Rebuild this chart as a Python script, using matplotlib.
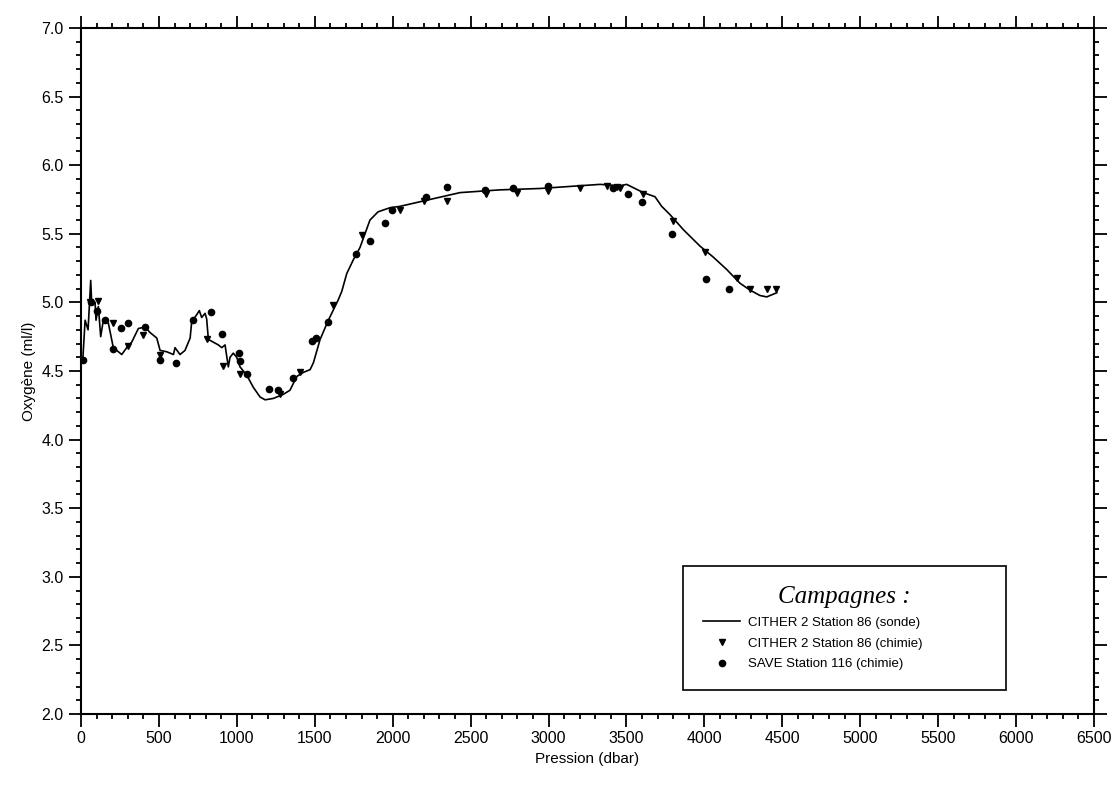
import matplotlib.pyplot as plt
from matplotlib.ticker import MultipleLocator

plt.rcParams['font.family'] = ['Liberation Sans', 'DejaVu Sans']

# CITHER 2 station 86, CTD oxygen profile (sonde)
sonde_p = [11, 26, 45, 62, 68, 90, 96, 111, 126, 143, 175, 207, 229, 261, 293, 325,
           368, 411, 443, 486, 507, 550, 593, 603, 635, 667, 700, 710, 742, 759, 774,
           796, 806, 817, 849, 881, 903, 924, 945, 956, 977, 999, 1020, 1063, 1106,
           1149, 1181, 1234, 1298, 1341, 1384, 1427, 1470, 1491, 1534, 1587, 1651,
           1673, 1705, 1747, 1790, 1854, 1906, 1983, 2047, 2239, 2432, 2688, 2945,
           3202, 3330, 3459, 3501, 3608, 3683, 3726, 3779, 3865, 3972, 4057, 4143,
           4228, 4292, 4357, 4400, 4464]
sonde_o2 = [4.58, 4.87, 4.80, 5.16, 5.00, 5.00, 4.87, 4.97, 4.75, 4.87, 4.85, 4.67,
            4.65, 4.62, 4.67, 4.71, 4.81, 4.82, 4.78, 4.74, 4.65, 4.64, 4.62, 4.67,
            4.62, 4.65, 4.74, 4.86, 4.91, 4.94, 4.89, 4.92, 4.88, 4.73, 4.71, 4.69,
            4.67, 4.69, 4.53, 4.60, 4.63, 4.60, 4.53, 4.47, 4.38, 4.31, 4.29, 4.30,
            4.33, 4.36, 4.46, 4.49, 4.51, 4.56, 4.73, 4.87, 5.02, 5.08, 5.21, 5.31,
            5.40, 5.60, 5.66, 5.69, 5.70, 5.75, 5.80, 5.82, 5.83, 5.85, 5.86, 5.85,
            5.86, 5.80, 5.77, 5.70, 5.64, 5.53, 5.41, 5.33, 5.24, 5.14, 5.09, 5.05,
            5.04, 5.07]

# CITHER 2 station 86, bottle samples (chimie)
cither_p = [58, 111, 207, 304, 400, 507, 806, 913, 1020, 1277, 1405, 1619, 1803,
            2047, 2200, 2350, 2600, 2800, 2997, 3200, 3373, 3437, 3459, 3608, 3801,
            4004, 4207, 4292, 4400, 4457]
cither_o2 = [5.00, 5.01, 4.85, 4.68, 4.76, 4.62, 4.73, 4.54, 4.48, 4.33, 4.49, 4.98,
             5.49, 5.67, 5.74, 5.74, 5.79, 5.80, 5.81, 5.83, 5.85, 5.84, 5.83, 5.79,
             5.59, 5.37, 5.18, 5.10, 5.10, 5.10]

# SAVE station 116, bottle samples (chimie)
save_p = [11, 62, 100, 154, 207, 257, 300, 411, 507, 608, 721, 834, 907, 1014, 1017,
          1063, 1209, 1262, 1362, 1480, 1508, 1583, 1765, 1854, 1950, 1995, 2214,
          2348, 2592, 2772, 2997, 3414, 3512, 3602, 3790, 4010, 4160]
save_o2 = [4.58, 5.00, 4.94, 4.87, 4.66, 4.81, 4.85, 4.82, 4.58, 4.56, 4.87, 4.93,
           4.77, 4.63, 4.57, 4.48, 4.37, 4.36, 4.45, 4.72, 4.74, 4.86, 5.35, 5.45,
           5.58, 5.67, 5.77, 5.84, 5.82, 5.83, 5.85, 5.83, 5.79, 5.73, 5.50, 5.17,
           5.10]

fig = plt.figure(figsize=(11.18, 7.85), dpi=100)
ax = fig.add_axes([0.0725, 0.0904, 0.906, 0.874])

ax.plot(sonde_p, sonde_o2, color='black', lw=1.2,
        label='CITHER 2 Station 86 (sonde)')
ax.plot(cither_p, cither_o2, 'v', color='black', ms=5, ls='none',
        label='CITHER 2 Station 86 (chimie)')
ax.plot(save_p, save_o2, 'o', color='black', ms=4.5, ls='none',
        label='SAVE Station 116 (chimie)')

ax.set_xlim(0, 6500)
ax.set_ylim(2.0, 7.0)
ax.xaxis.set_major_locator(MultipleLocator(500))
ax.xaxis.set_minor_locator(MultipleLocator(100))
ax.yaxis.set_major_locator(MultipleLocator(0.5))
ax.yaxis.set_minor_locator(MultipleLocator(0.1))
ax.yaxis.set_major_formatter(plt.FormatStrFormatter('%.1f'))

for side in ax.spines.values():
    side.set_linewidth(1.5)
ax.tick_params(which='both', direction='out', top=True, right=True,
               labeltop=False, labelright=False, width=1.3)
ax.tick_params(which='major', length=9, labelsize=11.5)
ax.tick_params(which='minor', length=3.5)

ax.set_xlabel('Pression (dbar)', fontsize=11)
ax.set_ylabel('Oxygène (ml/l)', fontsize=11)

leg = ax.legend(loc='lower left', bbox_to_anchor=(0.588, 0.025, 0.332, 0.189),
                mode='expand', fancybox=False, edgecolor='black', framealpha=1,
                fontsize=9.5, handlelength=2.8, handletextpad=0.6,
                labelspacing=0.65, borderpad=1.5,
                title='Campagnes :',
                title_fontproperties={'family': 'Liberation Serif',
                                      'style': 'italic', 'size': 18})
leg.get_frame().set_linewidth(1.2)

fig.savefig('out.png', dpi=100)
